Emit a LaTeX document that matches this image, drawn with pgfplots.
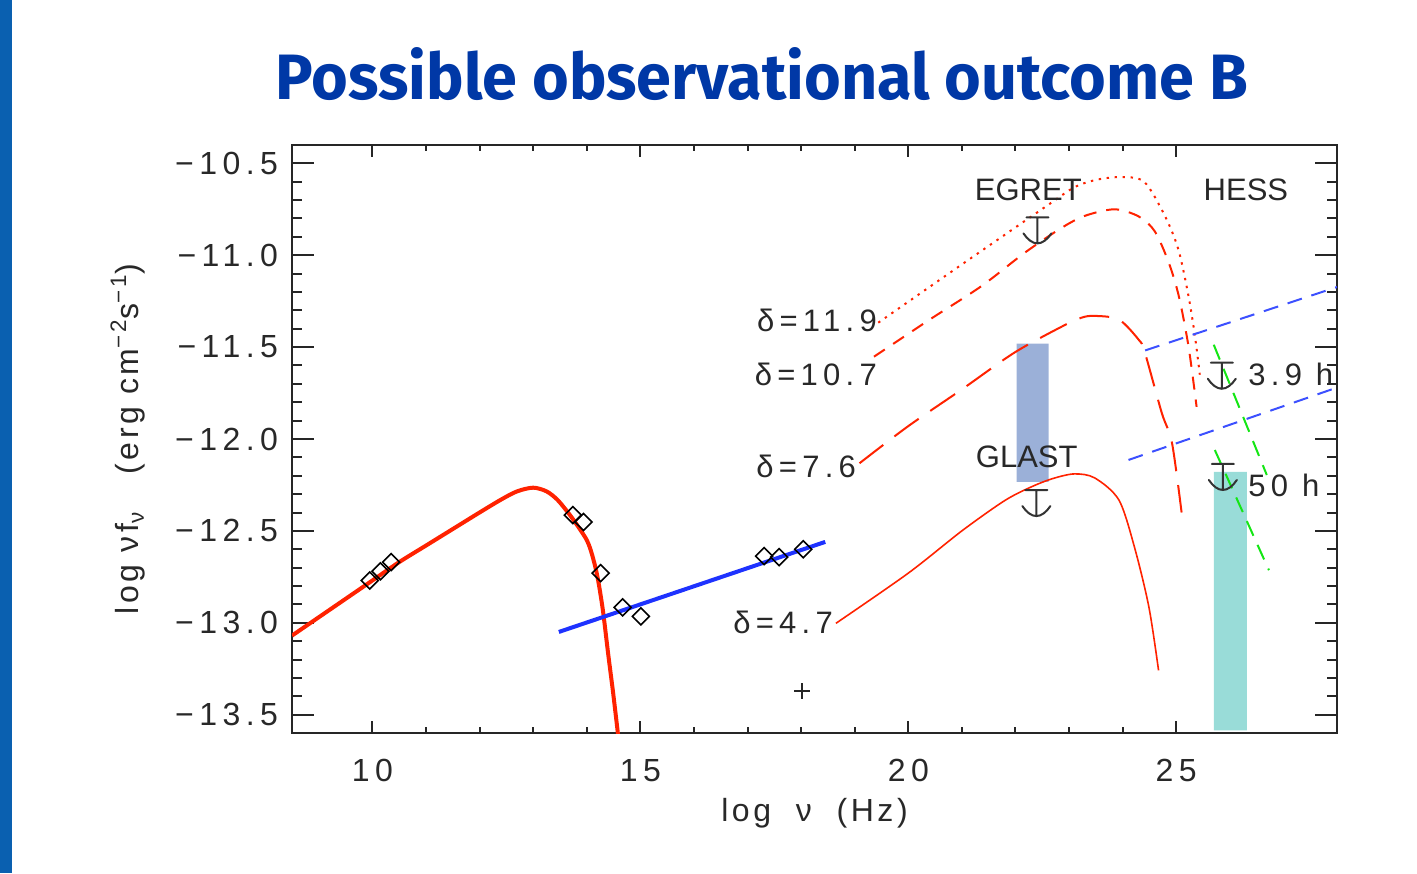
\documentclass[border=0pt]{standalone}
\usepackage{pgfplots}
\pgfplotsset{compat=1.18}
\usepackage{fontspec}
\setmainfont{Liberation Sans}
\newfontfamily\numfont[LetterSpace=17]{Liberation Sans}
\newfontfamily\labfont[LetterSpace=11]{Liberation Sans}
\newfontfamily\titlefont{Fira Sans}
\definecolor{titleblue}{RGB}{0,56,166}
\definecolor{barblue}{RGB}{10,96,176}
\definecolor{txt}{RGB}{40,40,40}
\definecolor{sred}{RGB}{255,34,0}
\definecolor{sblue}{RGB}{30,50,255}
\definecolor{dblue}{RGB}{60,80,255}
\definecolor{dgreen}{RGB}{20,230,20}
\definecolor{glastbox}{RGB}{155,176,216}
\definecolor{hessbox}{RGB}{153,220,216}
\pgfdeclareplotmark{ulim}{%
  \pgfsetroundcap
  \pgfpathmoveto{\pgfpoint{-5.5pt}{0pt}}\pgfpathlineto{\pgfpoint{5.5pt}{0pt}}%
  \pgfpathmoveto{\pgfpoint{0pt}{0pt}}\pgfpathlineto{\pgfpoint{0pt}{-13pt}}%
  \pgfpathmoveto{\pgfpoint{-7pt}{-8pt}}%
  \pgfpathcurveto{\pgfpoint{-5pt}{-11pt}}{\pgfpoint{-2.5pt}{-13pt}}{\pgfpoint{0pt}{-13pt}}%
  \pgfpathcurveto{\pgfpoint{2.5pt}{-13pt}}{\pgfpoint{5pt}{-11pt}}{\pgfpoint{7pt}{-8pt}}%
  \pgfusepathqstroke}
\begin{document}
\begin{tikzpicture}
\useasboundingbox (0,0) rectangle (708.5pt,436.5pt);
\fill[barblue] (0,0) rectangle (6pt,436.5pt);
\node[text=titleblue, anchor=base] at (381pt,386.5pt) {\resizebox{486pt}{26pt}{\titlefont\bfseries Possible observational outcome B}};
\begin{axis}[
  at={(146pt,70pt)}, anchor=south west,
  width=522.5pt, height=294pt, scale only axis,
  xmin=8.5, xmax=28, ymin=-13.6, ymax=-10.4,
  xtick={10,15,20,25}, xticklabels={10,15,20,25},
  ytick={-13.5,-13,-12.5,-12,-11.5,-11,-10.5},
  yticklabels={−13.5,−13.0,−12.5,−12.0,−11.5,−11.0,−10.5},
  minor x tick num=4, minor y tick num=4,
  xtick pos=both, ytick pos=both,
  xticklabel pos=bottom, yticklabel pos=left,
  tick align=inside,
  xtick style={/pgfplots/major tick length=6pt,/pgfplots/minor tick length=3pt},
  ytick style={/pgfplots/major tick length=11pt,/pgfplots/minor tick length=5pt},
  every tick/.style={black!85, line width=1pt},
  axis line style={black!85, line width=1pt},
  ticklabel style={font=\numfont\fontsize{16}{19}\selectfont, text=txt},
  xticklabel style={yshift=-9.5pt},
  yticklabel style={xshift=-3.5pt},
  xlabel={log\ \ ν\ \ (Hz)},
  ylabel={log νf\textsubscript{ν}\ \ \ (erg cm\textsuperscript{−2}s\textsuperscript{−1})},
  label style={font=\labfont\fontsize{16}{19}\selectfont, text=txt},
  xlabel style={at={(axis description cs:0.5,-0.136)}, anchor=center},
  ylabel style={at={(axis description cs:-0.157,0.5)}, anchor=center, rotate=0},
]
% instrument boxes
\addplot[fill=glastbox, draw=none] coordinates {(22.02,-11.481) (22.62,-11.481) (22.62,-12.234) (22.02,-12.234) (22.02,-11.481)};
\addplot[fill=hessbox, draw=none] coordinates {(25.70,-12.179) (26.32,-12.179) (26.32,-13.586) (25.70,-13.586) (25.70,-12.179)};
% synchrotron
\addplot[sred, line width=2pt, smooth] coordinates {
(8.5,-13.07) (9.0,-12.97) (9.5,-12.87) (10.0,-12.77) (10.5,-12.67) (11.0,-12.58) (11.5,-12.49) (12.0,-12.40) (12.4,-12.33) (12.7,-12.285) (13.0,-12.265) (13.25,-12.285) (13.45,-12.33) (13.65,-12.40) (13.8,-12.46) (14.0,-12.55) (14.1,-12.63) (14.2,-12.75) (14.3,-12.93) (14.4,-13.17) (14.5,-13.40) (14.6,-13.65)};
% x-ray power law
\addplot[sblue, line width=2pt] coordinates {(13.48,-13.05) (18.45,-12.56)};
% IC curves
\addplot[sred, line width=0.8pt, smooth] coordinates {
(18.65,-13.003) (20.0,-12.73) (21.0,-12.50) (21.8,-12.335) (22.3,-12.26) (22.7,-12.215) (23.10,-12.19) (23.48,-12.212) (23.93,-12.332) (24.22,-12.588) (24.49,-12.915) (24.67,-13.259)};
\addplot[sred, line width=1pt, smooth, dash pattern=on 15pt off 7pt] coordinates {
(19.09,-12.132) (19.99,-11.932) (21.0,-11.73) (21.98,-11.53) (22.86,-11.389) (23.23,-11.34) (23.48,-11.33) (23.93,-11.35) (24.30,-11.46) (24.41,-11.525) (24.73,-11.858) (24.92,-12.02) (25.10,-12.40)};
\addplot[sred, line width=1pt, smooth, dash pattern=on 6.5pt off 5pt] coordinates {
(19.36,-11.552) (20.4,-11.35) (21.36,-11.169) (22.17,-10.987) (22.86,-10.851) (23.3,-10.785) (23.85,-10.75) (24.30,-10.789) (24.60,-10.87) (24.86,-11.04) (25.05,-11.225) (25.23,-11.498) (25.38,-11.825)};
\addplot[sred, line width=1pt, smooth, dash pattern=on 1.2pt off 2.8pt] coordinates {
(19.44,-11.367) (21.0,-11.05) (22.62,-10.724) (23.10,-10.63) (23.5,-10.59) (23.95,-10.575) (24.40,-10.60) (24.79,-10.787) (25.04,-10.969) (25.23,-11.224) (25.35,-11.442) (25.44,-11.65)};
% HESS sensitivity
\addplot[dblue, line width=1pt, dash pattern=on 7.5pt off 5pt] coordinates {(24.42,-11.518) (28,-11.173)};
\addplot[dblue, line width=1pt, dash pattern=on 7.5pt off 5pt] coordinates {(24.11,-12.114) (28,-11.72)};
\addplot[dgreen, line width=1pt, dash pattern=on 8pt off 5pt] coordinates {(25.70,-11.487) (26.69,-12.196)};
\addplot[dgreen, line width=1pt, dash pattern=on 8pt off 5pt] coordinates {(25.72,-12.06) (26.73,-12.714)};
% data points
\addplot[only marks, mark=square, mark size=3pt, mark options={rotate=45, line width=0.8pt, draw=black, fill=none}] coordinates {
(9.95,-12.77) (10.15,-12.72) (10.35,-12.67)
(13.74,-12.414) (13.94,-12.452) (14.26,-12.73) (14.67,-12.916) (15.01,-12.965)
(17.31,-12.637) (17.59,-12.643) (18.04,-12.60)};
\addplot[only marks, mark=+, mark size=4pt, mark options={line width=1pt, draw=black!85}] coordinates {(18.02,-13.373)};
% upper limits
\addplot[only marks, mark=ulim, mark options={line width=1pt, draw=black!80}] coordinates {
(22.41,-10.794) (22.39,-12.278) (25.85,-11.585) (25.87,-12.136)};
% annotations
\node[anchor=center, text=txt, font=\fontsize{15.5}{18}\selectfont] at (axis cs:22.24,-10.642) {EGRET};
\node[anchor=center, text=txt, font=\fontsize{15.5}{18}\selectfont] at (axis cs:26.30,-10.642) {HESS};
\node[anchor=center, text=txt, font=\fontsize{15.5}{18}\selectfont] at (axis cs:22.21,-12.098) {GLAST};
\node[anchor=east, inner sep=0pt, text=txt, font=\numfont\fontsize{15.5}{18}\selectfont] at (axis cs:19.42,-11.356) {δ=11.9};
\node[anchor=east, inner sep=0pt, text=txt, font=\numfont\fontsize{15.5}{18}\selectfont] at (axis cs:19.42,-11.65) {δ=10.7};
\node[anchor=east, inner sep=0pt, text=txt, font=\numfont\fontsize{15.5}{18}\selectfont] at (axis cs:19.03,-12.147) {δ=7.6};
\node[anchor=east, inner sep=0pt, text=txt, font=\numfont\fontsize{15.5}{18}\selectfont] at (axis cs:18.60,-12.997) {δ=4.7};
\node[anchor=west, inner sep=0pt, text=txt, font=\numfont\fontsize{15.5}{18}\selectfont] at (axis cs:26.34,-11.65) {3.9\ h};
\node[anchor=west, inner sep=0pt, text=txt, font=\numfont\fontsize{15.5}{18}\selectfont] at (axis cs:26.34,-12.25) {50\ h};
\end{axis}
\end{tikzpicture}
\end{document}
